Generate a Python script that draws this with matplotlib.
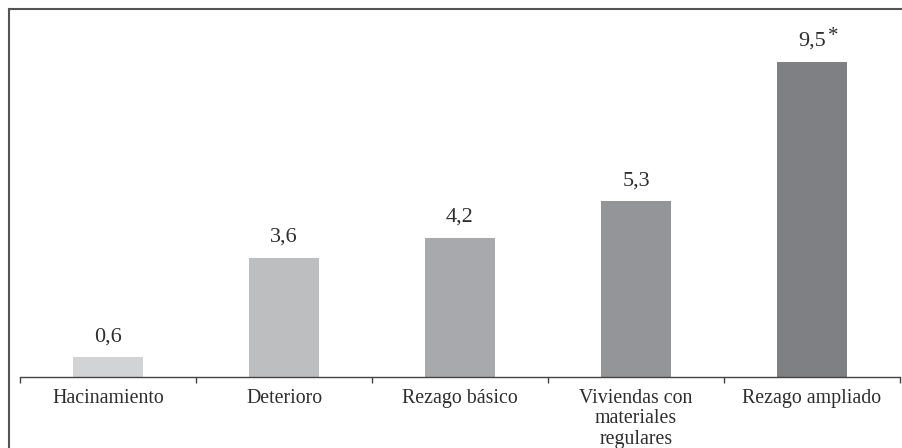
import matplotlib
matplotlib.use("Agg")
import matplotlib.pyplot as plt
from matplotlib.lines import Line2D

categories = ["Hacinamiento", "Deterioro", "Rezago básico",
              "Viviendas con\nmateriales\nregulares", "Rezago ampliado"]
values = [0.6, 3.6, 4.2, 5.3, 9.5]
value_labels = ["0,6", "3,6", "4,2", "5,3", "9,5"]
colors = ["#d1d3d4", "#bcbec0", "#a7a9ac", "#939598", "#7f8084"]

W, H = 903, 448
fig = plt.figure(figsize=(W / 100, H / 100), dpi=100)
plt.rcParams['font.family'] = ['Liberation Serif', 'DejaVu Serif']
txt = "#2e2e2e"

# axes placement in pixels
left, right, base, top = 20, 900, 377, 10
ax = fig.add_axes([left / W, (H - base) / H, (right - left) / W, (base - top) / H])
ppu = 315 / 9.5
ax.set_ylim(0, (base - top) / ppu)
ax.set_xlim(-0.5, len(categories) - 0.5)

x = list(range(len(categories)))
ax.bar(x, values, width=0.40, color=colors, zorder=2)

for xi, v, lab in zip(x, values, value_labels):
    ax.annotate(lab, (xi, v), xytext=(0, 11.5), textcoords="offset points",
                ha="center", va="baseline", fontsize=16, color=txt)
# asterisk on last label
ax.annotate("*", (x[-1], values[-1]), xytext=(11.3, 15), textcoords="offset points",
            ha="left", va="baseline", fontsize=15, color=txt)

for s in ["left", "right", "top"]:
    ax.spines[s].set_visible(False)
ax.spines["bottom"].set_color("#444444")
ax.spines["bottom"].set_linewidth(1.0)
ax.set_yticks([])
ax.set_xticks(x)
ax.set_xticklabels(categories, fontsize=14.3, color=txt, linespacing=1.12, va="top")
ax.tick_params(axis="x", which="major", length=0, pad=8.5)
ax.set_xticks([i - 0.5 for i in range(len(categories) + 1)], minor=True)
ax.tick_params(axis="x", which="minor", length=4, width=1.0, color="#444444", direction="out")

# outer frame (partially cropped)
fig.add_artist(Line2D([8.5 / W, 8.5 / W], [0, 1 - 9.5 / H], transform=fig.transFigure,
                      color="#555555", lw=1.5, solid_capstyle="projecting"))
fig.add_artist(Line2D([8.5 / W, 1.0], [1 - 9.5 / H, 1 - 9.5 / H], transform=fig.transFigure,
                      color="#555555", lw=1.5, solid_capstyle="projecting"))

fig.savefig("out.png", dpi=100)
